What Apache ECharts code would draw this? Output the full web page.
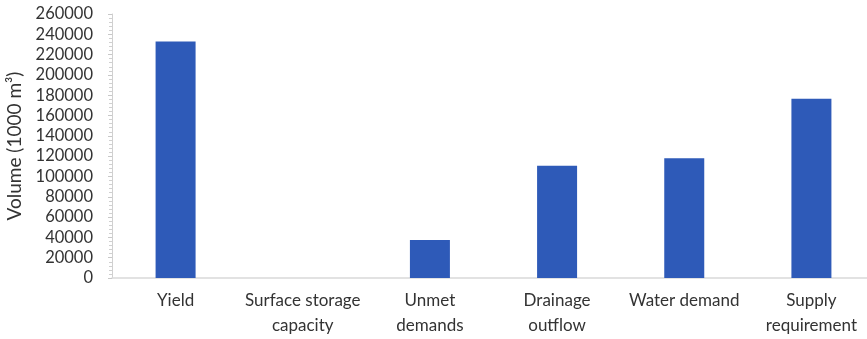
<!DOCTYPE html>
<html><head><meta charset="utf-8">
<script src="https://cdn.jsdelivr.net/npm/echarts@6/dist/echarts.min.js"></script>
<style>html,body{margin:0;padding:0;background:#fff}#c{width:867px;height:339px}</style>
</head><body><div id="c"></div>
<script>
var categories = ['Yield', 'Surface storage\ncapacity', 'Unmet\ndemands', 'Drainage\noutflow', 'Water demand', 'Supply\nrequirement'];
var volumes = [233000, 0, 37500, 110500, 118000, 176500];
var yMin = 0, yMax = 260000, yStep = 20000;

var chart = echarts.init(document.getElementById('c'));
chart.setOption({
  animation: false,
  grid: { left: 112, top: 14, bottom: 61, width: 763, outerBoundsMode: 'none' },
  xAxis: {
    type: 'category', data: categories,
    axisLine: { lineStyle: { color: '#d9d9d9', width: 1.5 } },
    axisTick: { show: false },
    axisLabel: { color: '#333', fontFamily: 'Lato', fontSize: 17, lineHeight: 25, margin: 10, interval: 0 }
  },
  yAxis: {
    type: 'value', min: yMin, max: yMax, interval: yStep,
    name: 'Volume (1000 m³)', nameLocation: 'middle', nameGap: 78,
    nameTextStyle: { color: '#333', fontFamily: 'Lato', fontSize: 19 },
    axisLine: { show: true, lineStyle: { color: '#d0d0d0' } },
    axisTick: { show: true, length: 4, lineStyle: { color: '#c8c8c8' } },
    minorTick: { show: true, splitNumber: 5, length: 3, lineStyle: { color: '#d0d0d0' } },
    splitLine: { show: false },
    axisLabel: { color: '#333', fontFamily: 'Lato', fontSize: 16.5, margin: 19, formatter: function (v) { return String(v); } }
  },
  series: [{
    type: 'bar', data: volumes, barWidth: 40,
    itemStyle: { color: '#2E5AB8' }
  }]
});
</script></body></html>
